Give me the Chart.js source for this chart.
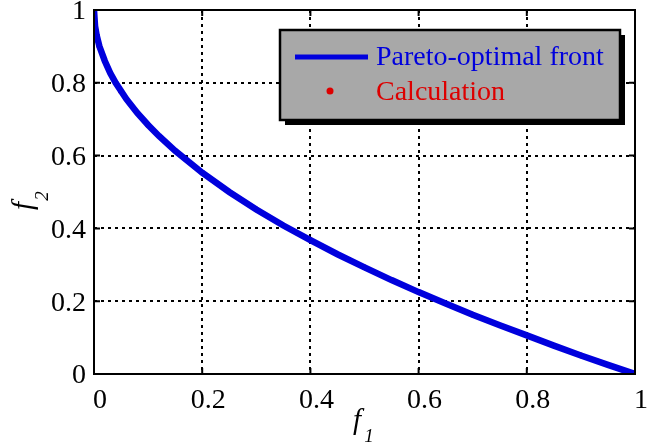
<html>
  <head>
    <script src="https://cdn.jsdelivr.net/npm/chart.js@4/dist/chart.umd.min.js"></script>
    <style>
      body {
        margin: 0;
        background: #fff;
      }
    </style>
  </head>

  <body>
    <canvas id="chart" width="654" height="445"></canvas>

    <script>
      // values
      const front_f1 = [0, 0.002, 0.005, 0.01, 0.02, 0.03, 0.04, 0.06, 0.08, 0.1, 0.12, 0.15,
        0.2, 0.25, 0.3, 0.35, 0.4, 0.45, 0.5, 0.55, 0.6, 0.65, 0.7, 0.75, 0.8, 0.85, 0.9, 0.95, 1];
      const front_f2 = [1, 0.955, 0.93, 0.9, 0.86, 0.827, 0.8, 0.755, 0.717, 0.684, 0.654, 0.613,
        0.553, 0.5, 0.452, 0.408, 0.368, 0.329, 0.293, 0.258, 0.225, 0.194, 0.163, 0.134, 0.106, 0.078, 0.051, 0.025, 0];
      const calc_f1 = [0, 0.01, 0.05, 0.1, 0.2, 0.3, 0.4, 0.5, 0.6, 0.7, 0.8, 0.9, 1];
      const calc_f2 = [1, 0.9, 0.776, 0.684, 0.553, 0.452, 0.368, 0.293, 0.225, 0.163, 0.106, 0.051, 0];
      const tick_values = [0, 0.2, 0.4, 0.6, 0.8, 1];

      const serif = "'Liberation Serif', 'Times New Roman', serif";
      const blue = "#0000dd";
      const red = "#dd0000";

      const to_points = (xs, ys) => xs.map((x, i) => ({ x: x, y: ys[i] }));
      const fmt = (v) => (v === 0 || v === 1 ? String(v) : v.toFixed(1));

      const fixed_ticks = (scale) => {
        scale.ticks = tick_values.map((v) => ({ value: v }));
      };

      const frame = {
        id: "frame",
        afterDraw: (chart) => {
          const ctx = chart.ctx;
          const a = chart.chartArea;
          const xs = chart.scales.x;
          const ys = chart.scales.y;
          ctx.save();
          ctx.strokeStyle = "#000";
          ctx.lineWidth = 2;
          ctx.setLineDash([]);
          ctx.strokeRect(a.left, a.top, a.right - a.left, a.bottom - a.top);
          // inward ticks, all four sides
          ctx.beginPath();
          for (const v of tick_values) {
            const px = xs.getPixelForValue(v);
            const py = ys.getPixelForValue(v);
            ctx.moveTo(px, a.bottom);
            ctx.lineTo(px, a.bottom - 6);
            ctx.moveTo(px, a.top);
            ctx.lineTo(px, a.top + 6);
            ctx.moveTo(a.left, py);
            ctx.lineTo(a.left + 6, py);
            ctx.moveTo(a.right, py);
            ctx.lineTo(a.right - 6, py);
          }
          ctx.stroke();

          // axis titles
          ctx.fillStyle = "#000";
          ctx.textAlign = "center";
          ctx.textBaseline = "middle";
          ctx.font = "italic 29px " + serif;
          ctx.fillText("f", 357, 421);
          ctx.font = "italic 19px " + serif;
          ctx.fillText("1", 369, 437);

          ctx.save();
          ctx.translate(24, 206);
          ctx.rotate(-Math.PI / 2);
          ctx.font = "italic 29px " + serif;
          ctx.fillText("f", 0, 0);
          ctx.font = "italic 19px " + serif;
          ctx.fillText("2", 10, 19);
          ctx.restore();

          // legend box with shadow
          const lx = 280, ly = 30, lw = 340, lh = 90;
          ctx.fillStyle = "#000";
          ctx.fillRect(lx + 5, ly + 5, lw, lh);
          ctx.fillStyle = "#a8a8a8";
          ctx.fillRect(lx, ly, lw, lh);
          ctx.lineWidth = 2.5;
          ctx.strokeStyle = "#000";
          ctx.strokeRect(lx, ly, lw, lh);

          const ds = chart.data.datasets;
          ctx.strokeStyle = blue;
          ctx.lineWidth = 5;
          ctx.beginPath();
          ctx.moveTo(295, 57);
          ctx.lineTo(368, 57);
          ctx.stroke();
          ctx.fillStyle = red;
          ctx.beginPath();
          ctx.arc(330, 91, 3.5, 0, Math.PI * 2);
          ctx.fill();

          ctx.font = "28px " + serif;
          ctx.textAlign = "left";
          ctx.fillStyle = blue;
          ctx.fillText(ds[0].label, 376, 58);
          ctx.fillStyle = red;
          ctx.fillText(ds[1].label, 376, 93);
          ctx.restore();
        },
      };

      const axis_cfg = (pad, shift) => ({
        type: "linear",
        min: 0,
        max: 1,
        afterBuildTicks: fixed_ticks,
        ticks: {
          color: "#000",
          padding: pad,
          labelOffset: shift,
          font: { family: serif, size: 28 },
          callback: (v) => fmt(v),
        },
        grid: {
          color: "#000",
          lineWidth: 2,
          drawTicks: false,
        },
        border: { display: false, dash: [3, 4] },
      });

      const x_axis = axis_cfg(10, 6);
      x_axis.afterFit = (s) => {
        s.height = 71;
        s.paddingLeft = 0;
        s.paddingRight = 0;
      };
      const y_axis = axis_cfg(8, 2);
      y_axis.afterFit = (s) => {
        s.width = 94;
        s.paddingTop = 0;
        s.paddingBottom = 0;
      };

      new Chart(document.getElementById("chart"), {
        type: "scatter",
        data: {
          datasets: [
            {
              label: "Pareto-optimal front",
              data: to_points(front_f1, front_f2),
              showLine: true,
              borderColor: blue,
              borderWidth: 6.5,
              pointRadius: 0,
              tension: 0,
            },
            {
              label: "Calculation",
              data: to_points(calc_f1, calc_f2),
              backgroundColor: red,
              borderColor: red,
              pointRadius: 2.5,
            },
          ],
        },
        options: {
          responsive: false,
          animation: false,
          devicePixelRatio: 1,
          layout: { padding: { left: 0, top: 10, right: 19, bottom: 0 } },
          scales: { x: x_axis, y: y_axis },
          plugins: {
            legend: { display: false },
            tooltip: { enabled: false },
          },
        },
        plugins: [frame],
      });
    </script>
  </body>
</html>
